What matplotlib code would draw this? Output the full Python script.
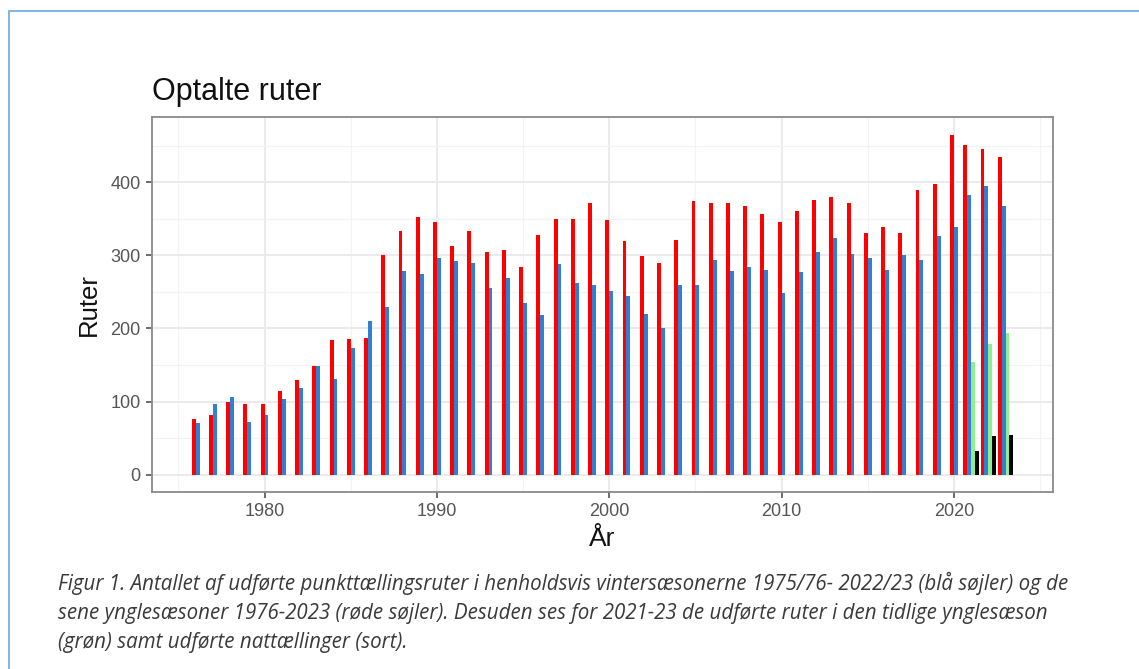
import numpy as np
import matplotlib.pyplot as plt
from matplotlib.lines import Line2D

# Data
years = list(range(1976, 2024))
sen_yngle = [76, 82, 99, 97, 97, 115, 130, 148, 184, 186, 187, 300, 334, 352, 345,
             313, 334, 305, 307, 284, 328, 350, 350, 371, 349, 319, 299, 290, 321,
             374, 372, 372, 367, 357, 345, 361, 376, 380, 371, 331, 339, 331, 390,
             398, 465, 451, 446, 434]
vinter = [70, 97, 106, 72, 81, 104, 118, 149, 131, 173, 210, 229, 278, 274, 297,
          292, 289, 255, 269, 235, 219, 288, 262, 259, 251, 245, 220, 200, 259,
          259, 294, 279, 284, 280, 248, 277, 304, 324, 302, 297, 280, 301, 293,
          327, 339, 382, 395, 367]
late_years = [2021, 2022, 2023]
tidlig_yngle = [154, 179, 194]
nat = [32, 53, 54]

plt.rcParams['font.family'] = ['Liberation Sans', 'DejaVu Sans']

fig = plt.figure(figsize=(11.39, 6.69), dpi=100)
W, H = 1139, 669
ax = fig.add_axes([151.7 / W, 1 - 491.7 / H, (1053 - 151.7) / W, (491.7 - 117) / H])

bw = 0.225
yrs = np.array(years, dtype=float)
# years with two series vs four series (dodge keeps single width)
two = yrs < 2021
red_x = np.where(two, yrs - bw / 2, yrs - 1.5 * bw)
blue_x = np.where(two, yrs + bw / 2, yrs - 0.5 * bw)
ly = np.array(late_years, dtype=float)

ax.bar(red_x, sen_yngle, width=bw, color='#FF0000', linewidth=0, zorder=3)
ax.bar(blue_x, vinter, width=bw, color='#2F7FD3', linewidth=0, zorder=3)
ax.bar(ly + 0.5 * bw, tidlig_yngle, width=bw, color='#90EE90', linewidth=0, zorder=3)
ax.bar(ly + 1.5 * bw, nat, width=bw, color='#000000', linewidth=0, zorder=3)

ax.set_xlim(1973.45, 2025.75)
ax.set_ylim(-23.3, 489.3)
ax.set_xticks([1980, 1990, 2000, 2010, 2020])
ax.set_xticks([1975, 1985, 1995, 2005, 2015, 2025], minor=True)
ax.set_yticks([0, 100, 200, 300, 400])
ax.set_yticks([50, 150, 250, 350, 450], minor=True)
ax.grid(which='major', color='#EBEBEB', linewidth=1.4, zorder=0)
ax.grid(which='minor', color='#F3F3F3', linewidth=0.8, zorder=0)
ax.set_axisbelow(True)
ax.tick_params(which='major', length=4.5, width=1.1, color='#444444',
               labelsize=13, labelcolor='#555555', pad=3.5)
ax.tick_params(which='minor', length=0)
for s in ax.spines.values():
    s.set_color('#8a8a8a')
    s.set_linewidth(1.3)

ax.set_ylabel('Ruter', fontsize=18.5, color='#111111', labelpad=7)
ax.set_xlabel('År', fontsize=19, color='#111111', labelpad=5)

fig.text(152 / W, 1 - 100 / H, 'Optalte ruter', fontsize=22, color='#111111',
         ha='left', va='baseline')

caption = ["Figur 1. Antallet af udførte punkttællingsruter i henholdsvis vintersæsonerne 1975/76- 2022/23 (blå søjler) og de",
           "sene ynglesæsoner 1976-2023 (røde søjler). Desuden ses for 2021-23 de udførte ruter i den tidlige ynglesæson",
           "(grøn) samt udførte nattællinger (sort)."]
for i, line in enumerate(caption):
    fig.text(58 / W, 1 - (590 + i * 29) / H, line, fontsize=14.8, style='italic',
             family=['Open Sans', 'DejaVu Sans'], color='#3a3a3a', ha='left', va='baseline')

# light blue frame round the figure
fig.add_artist(Line2D([8.5 / W, 8.5 / W], [0, 1 - 10.5 / H], transform=fig.transFigure,
                      color='#86B6E2', linewidth=1.5))
fig.add_artist(Line2D([8.5 / W, 1], [1 - 10.5 / H, 1 - 10.5 / H], transform=fig.transFigure,
                      color='#86B6E2', linewidth=1.5))

fig.savefig('out.png', dpi=100)
